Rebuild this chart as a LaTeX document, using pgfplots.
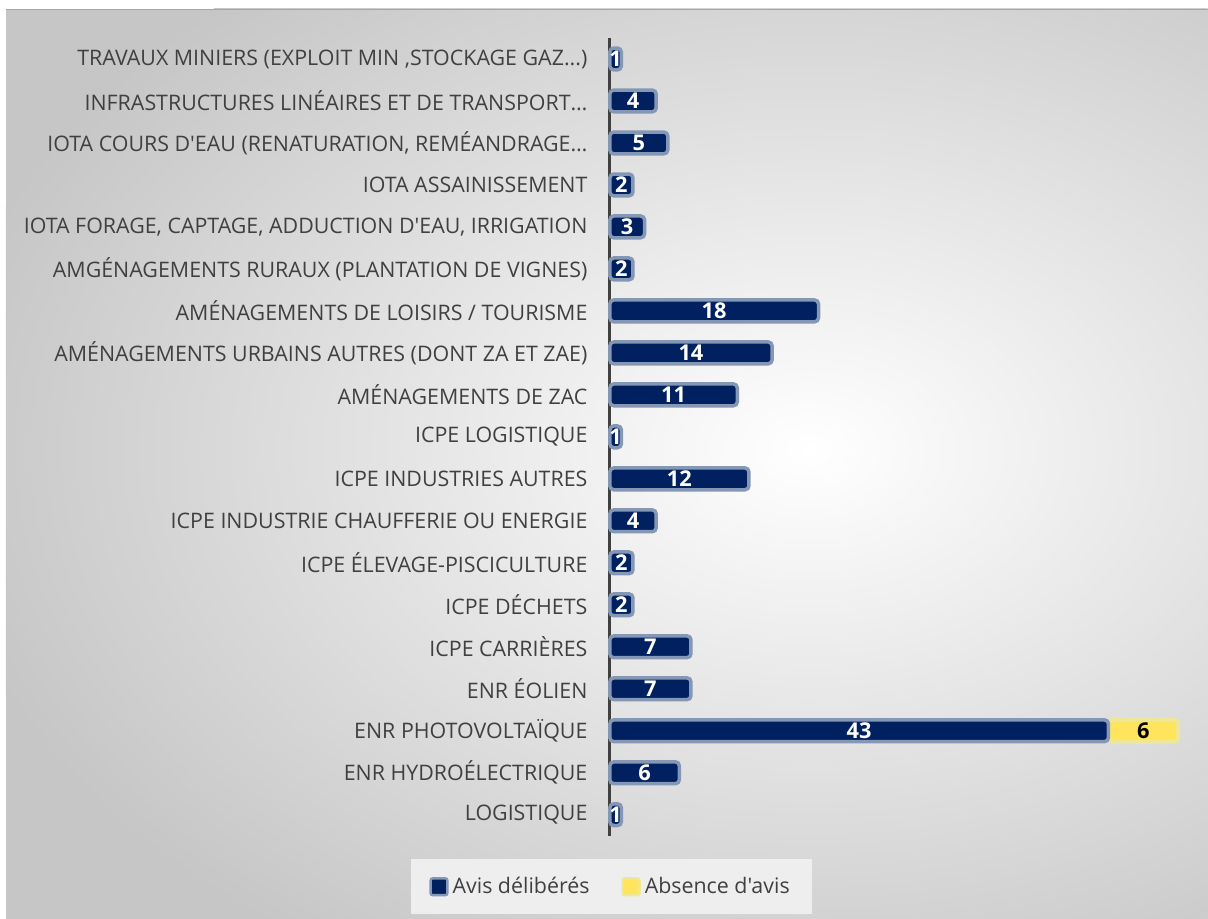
\documentclass[border=0pt]{standalone}
\usepackage{pgfplots}
\usepackage{pgfplotstable}
\pgfplotsset{compat=1.18}
\usepackage{fontspec}
\setmainfont{Open Sans}[Ligatures=TeXOff]
\definecolor{navy}{RGB}{0,32,96}
\definecolor{navyedge}{RGB}{132,151,180}
\definecolor{yel}{RGB}{255,228,92}
\definecolor{yeledge}{RGB}{236,232,150}
\definecolor{txt}{RGB}{64,64,64}
\definecolor{bgout}{RGB}{198,198,198}
\definecolor{legbg}{RGB}{238,238,238}
\newcommand{\threedots}{.\kern0pt.\kern0pt.}
% navy series: the ENR PHOTOVOLTAIQUE row (y=2) first, so that the stacked yellow segment sits on it
\pgfplotstableread{
y v
2 43
0 1
1 6
3 7
4 7
5 2
6 2
7 4
8 12
9 1
10 11
11 14
12 18
13 2
14 3
15 2
16 5
17 4
18 1
}\navydata
\pgfplotstableread{
y s v
2 43 6
}\yeldata
\pgfplotsset{geom/.style={
  at={(305pt,41.5pt)}, anchor=south west,
  scale only axis, width=290pt, height=399pt,
  xmin=0, xmax=50, ymin=-0.5, ymax=18.5, clip=false}}
\begin{document}
\begin{tikzpicture}
\fill[white] (0,0) rectangle (604pt,459.5pt);
\begin{scope}
\clip (3pt,0) rectangle (604pt,455pt);
\fill[bgout] (3pt,0) rectangle (604pt,455pt);
\shade[inner color=white, outer color=bgout] (405pt,234.5pt) ellipse [x radius=440pt, y radius=300pt];
\end{scope}
\draw[gray!70, line width=0.4pt] (3pt,455pt) -- (604pt,455pt);
\begin{axis}[geom,
  xbar stacked, bar width=0.52,
  axis x line=none, axis y line*=left,
  axis line style={draw=txt, line width=1.5pt},
  ytick={0,1,2,3,4,5,6,7,8,9,10,11,12,13,14,15,16,17,18}, major tick length=0pt,
  yticklabels={LOGISTIQUE, ENR HYDROÉLECTRIQUE, ENR PHOTOVOLTAÏQUE, ENR ÉOLIEN, ICPE CARRIÈRES, ICPE DÉCHETS, ICPE ÉLEVAGE-PISCICULTURE, ICPE INDUSTRIE CHAUFFERIE OU ENERGIE, ICPE INDUSTRIES AUTRES, ICPE LOGISTIQUE, AMÉNAGEMENTS DE ZAC, AMÉNAGEMENTS URBAINS AUTRES (DONT ZA ET ZAE), AMÉNAGEMENTS DE LOISIRS / TOURISME, AMGÉNAGEMENTS RURAUX (PLANTATION DE VIGNES), {IOTA FORAGE, CAPTAGE, ADDUCTION D'EAU, IRRIGATION}, IOTA ASSAINISSEMENT, {IOTA COURS D'EAU (RENATURATION, REMÉANDRAGE…}, INFRASTRUCTURES LINÉAIRES ET DE TRANSPORT…, {TRAVAUX MINIERS (EXPLOIT MIN ,STOCKAGE GAZ\threedots)}},
  yticklabel style={font=\fontsize{10.7}{12}\selectfont, text=txt, inner sep=0pt, xshift=-11pt},
  legend columns=2,
  legend style={at={(axis description cs:0.003,-0.064)}, anchor=center, draw=none, fill=legbg, font=\fontsize{10.7}{12}\selectfont, text=txt, inner xsep=9pt, inner ysep=7pt, /tikz/every even column/.append style={column sep=14pt}},
  legend image code/.code={\draw[#1, line width=1.2pt, rounded corners=1pt] (0pt,-4.2pt) rectangle (8.4pt,4.2pt);},
]
\addplot[fill=navy, draw=navyedge, line width=1.75pt, rounded corners=2pt]
  table[x=v, y=y]{\navydata};
\addlegendentry{Avis délibérés}
\addplot[fill=yel, draw=yeledge, line width=2.2pt, rounded corners=2pt]
  table[x=v, y=y]{\yeldata};
\addlegendentry{Absence d'avis}
\end{axis}
\begin{axis}[geom, hide axis]
\addplot[draw=none, mark=none, nodes near coords, point meta=explicit symbolic,
  every node near coord/.style={anchor=center, text=white, font=\bfseries\fontsize{10.9}{12}\selectfont}]
  table[x expr=\thisrow{v}/2, y=y, meta=v]{\navydata};
\addplot[draw=none, mark=none, nodes near coords, point meta=explicit symbolic,
  every node near coord/.style={anchor=center, text=black, font=\bfseries\fontsize{10.9}{12}\selectfont}]
  table[x expr=\thisrow{s}+\thisrow{v}/2, y=y, meta=v]{\yeldata};
\end{axis}
\end{tikzpicture}
\end{document}
